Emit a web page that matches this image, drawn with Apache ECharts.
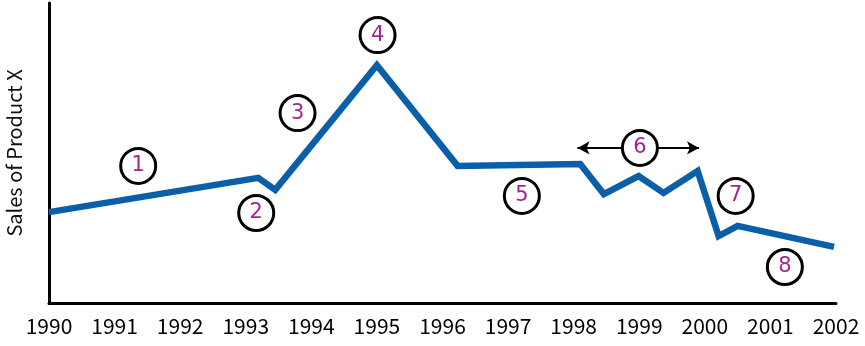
<!DOCTYPE html>
<html><head><meta charset="utf-8">
<script src="https://cdn.jsdelivr.net/npm/echarts@6/dist/echarts.min.js"></script>
<style>html,body{margin:0;padding:0;background:#fff}#c{width:865px;height:346px}</style>
</head><body><div id="c"></div>
<script>
const years = [1990,1991,1992,1993,1994,1995,1996,1997,1998,1999,2000,2001,2002];
const salesX = [1990, 1993.19, 1993.45, 1995.0, 1996.23, 1998.1, 1998.46, 1998.99, 1999.37, 1999.89, 2000.21, 2000.5, 2001.97];
const salesY = [30.3, 41.7, 37.7, 79.3, 45.7, 46.3, 36.3, 42.3, 36.7, 44.0, 22.3, 25.7, 18.7];
const noteLabels = ['1','2','3','4','5','6','7','8'];
const noteX = [1991.36, 1993.16, 1993.79, 1995.01, 1997.21, 1999.01, 2000.47, 2001.22];
const noteY = [45.7, 30.0, 63.3, 89.3, 35.7, 51.7, 35.7, 12.0];
const arrowX = [1998.06, 1999.91];
const arrowY = 51.7;

const chart = echarts.init(document.getElementById('c'));
chart.setOption({
  animation: false,
  grid: {left: 49, right: 29, top: 3, bottom: 43, outerBoundsMode: 'none', containLabel: false},
  xAxis: {
    type: 'value', min: 1990, max: 2002, interval: 1,
    axisLine: {show: true, onZero: false, lineStyle: {color: '#000', width: 3}},
    axisTick: {show: false}, splitLine: {show: false},
    axisLabel: {margin: 13, color: '#000', fontSize: 21, fontFamily: 'Noto Sans CJK SC', formatter: v => String(v)}
  },
  yAxis: {
    type: 'value', min: 0, max: 100,
    name: 'Sales of Product X', nameLocation: 'middle', nameGap: 25, nameRotate: 90,
    nameTextStyle: {color: '#111', fontSize: 20, fontFamily: 'Noto Sans CJK SC'},
    axisLine: {show: true, lineStyle: {color: '#000', width: 3}},
    axisTick: {show: false}, axisLabel: {show: false}, splitLine: {show: false}
  },
  series: [
    {
      type: 'line', data: salesX.map((x, i) => [x, salesY[i]]),
      symbol: 'none', lineStyle: {color: '#0b5fa8', width: 6.5, join: 'miter'}, z: 2
    },
    {
      type: 'line', data: [[arrowX[0], arrowY],[arrowX[1], arrowY]], symbol: 'none',
      lineStyle: {color: '#000', width: 2}, z: 3,
      markLine: {
        silent: true, symbol: ['arrow','arrow'], symbolSize: [10, 12],
        lineStyle: {color: '#000', width: 2, type: 'solid'}, label: {show: false},
        data: [[{coord: [arrowX[0], arrowY]}, {coord: [arrowX[1], arrowY]}]]
      }
    },
    {
      type: 'scatter', data: noteX.map((x, i) => [x, noteY[i], noteLabels[i]]),
      symbol: 'circle', symbolSize: 35, z: 5,
      itemStyle: {color: '#fff', borderColor: '#000', borderWidth: 3, opacity: 1},
      label: {show: true, position: 'inside', formatter: p => p.data[2], color: '#a2248c', fontSize: 21, fontWeight: 500, fontFamily: 'DejaVu Sans'}
    }
  ]
});
</script></body></html>
